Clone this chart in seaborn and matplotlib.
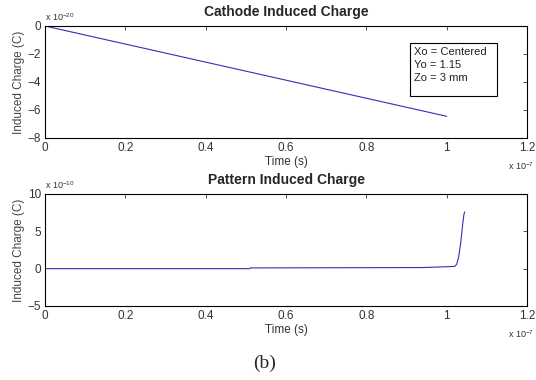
import numpy as np
import pandas as pd
import matplotlib
matplotlib.use("Agg")
import matplotlib.pyplot as plt
from matplotlib.patches import Rectangle
import seaborn as sns

# Data (time in s, charge in C)
cathode_time = [0.0, 1.0e-7]
cathode_charge = [0.0, -6.45e-20]

pattern_time = [0.0, 0.51e-7, 0.511e-7, 0.94e-7, 1.02e-7, 1.025e-7, 1.03e-7,
                1.035e-7, 1.04e-7, 1.043e-7, 1.045e-7]
pattern_charge = [0.0, 0.0, 0.1e-10, 0.15e-10, 0.3e-10, 0.6e-10, 1.6e-10,
                  3.5e-10, 6.0e-10, 7.3e-10, 7.6e-10]

legend_lines = ["Xo = Centered", "Yo = 1.15", "Zo = 3 mm"]

sns.set_style("white")
plt.rcParams["font.family"] = ["Liberation Sans", "DejaVu Sans"]
plt.rcParams["mathtext.fontset"] = "custom"
plt.rcParams["mathtext.rm"] = "Liberation Sans"

fig = plt.figure(figsize=(5.36, 3.80), dpi=100)
W, H = 536, 380
ax1 = fig.add_axes([45 / W, 1 - 138 / H, 482 / W, 112 / H])
ax2 = fig.add_axes([45 / W, 1 - 306 / H, 482 / W, 112 / H])

df1 = pd.DataFrame({"t": np.array(cathode_time) * 1e7,
                    "q": np.array(cathode_charge) * 1e20})
df2 = pd.DataFrame({"t": np.array(pattern_time) * 1e7,
                    "q": np.array(pattern_charge) * 1e10})

line_col = "#3030b8"
sns.lineplot(data=df1, x="t", y="q", ax=ax1, color=line_col, lw=0.8)
sns.lineplot(data=df2, x="t", y="q", ax=ax2, color=line_col, lw=0.8)

ax1.set_ylim(-8, 0)
ax1.set_yticks([-8, -6, -4, -2, 0])
ax2.set_ylim(-5, 10)
ax2.set_yticks([-5, 0, 5, 10])

for ax, title in [(ax1, "Cathode Induced Charge"), (ax2, "Pattern Induced Charge")]:
    ax.set_xlim(0, 1.2)
    ax.set_xticks([0, 0.2, 0.4, 0.6, 0.8, 1.0, 1.2])
    ax.set_xticklabels(["0", "0.2", "0.4", "0.6", "0.8", "1", "1.2"])
    ax.tick_params(direction="in", top=True, right=True, length=3,
                   labelsize=8.5, colors="#333333", pad=3, width=0.6)
    ax.tick_params(axis="x", pad=3)
    for s in ax.spines.values():
        s.set_linewidth(0.8)
        s.set_color("black")
    ax.set_title(title, fontsize=10, fontweight="bold", pad=7)
    ax.set_xlabel("Time (s)", fontsize=8.5, labelpad=1, color="#333333")
    ax.set_ylabel("Induced Charge (C)", fontsize=8.5, labelpad=2, color="#444444")
    ax.text(0.96, -0.2, r"x 10$^{-7}$", transform=ax.transAxes, fontsize=6.5,
            va="top", ha="left", color="#333333")

ax1.text(0, 1.03, r"x 10$^{-20}$", transform=ax1.transAxes, fontsize=6.5,
         va="bottom", ha="left", color="#333333")
ax2.text(0, 1.03, r"x 10$^{-10}$", transform=ax2.transAxes, fontsize=6.5,
         va="bottom", ha="left", color="#333333")

# annotation box
fig.patches.append(Rectangle((410 / W, 1 - 96 / H), 87 / W, 53 / H,
                             transform=fig.transFigure, fc="white", ec="black",
                             lw=0.8, zorder=5))
fig.text(414 / W, 1 - 47 / H, "\n".join(legend_lines), fontsize=8,
         va="top", ha="left", linespacing=1.35, color="#222222", zorder=6)

fig.text(265 / W, 1 - 363 / H, "(b)", fontsize=14, ha="center", va="center",
         family="Liberation Serif")

fig.savefig("out.png", dpi=100)
